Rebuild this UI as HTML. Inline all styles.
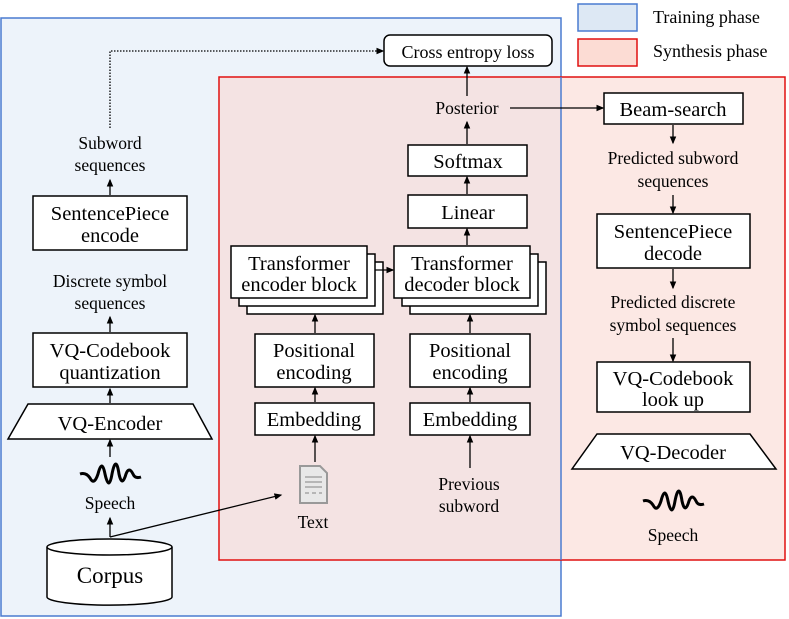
<!DOCTYPE html>
<html><head><meta charset="utf-8"><style>
body{margin:0;background:#fff}
svg{display:block;font-family:"Liberation Serif",serif}
</style></head><body>
<svg width="789" height="619" viewBox="0 0 789 619" xmlns="http://www.w3.org/2000/svg">
<defs><marker id="a" markerWidth="6" markerHeight="6" refX="5" refY="3" orient="auto"><path d="M0,0.5 L6,3 L0,5.5z" fill="#000"/></marker></defs>
<rect x="1" y="18" width="560" height="598" fill="#edf3fa" stroke="#4a7bd0" stroke-width="1.5"/>
<rect x="219" y="77" width="566" height="483" fill="#fce8e4" stroke="#e01010" stroke-width="1.5"/>
<rect x="220" y="78" width="340" height="481" fill="#f4e3e3"/>
<line x1="561" y1="77" x2="561" y2="560" stroke="#4a7bd0" stroke-width="1.5"/>
<rect x="578" y="4" width="59" height="27" fill="#dde8f4" stroke="#4a7bd0" stroke-width="1.5"/>
<rect x="578" y="39" width="59" height="27" fill="#fcdcd4" stroke="#e01010" stroke-width="1.5"/>
<g font-size="18"><text x="653" y="23">Training phase</text><text x="653" y="57">Synthesis phase</text></g>
<g fill="#fff" stroke="#000" stroke-width="1.5">
<rect x="384" y="35" width="168" height="31" rx="6"/>
<rect x="33" y="196" width="154" height="54"/>
<rect x="33" y="333" width="154" height="54"/>
<polygon points="28,404 193,404 212,439 8,439"/>
<path d="M47,547 v50 a62,8 0 0 0 125,0 v-50"/>
<ellipse cx="109.5" cy="547" rx="62.5" ry="8"/>
<rect x="247" y="262" width="136" height="52"/><rect x="239" y="254" width="136" height="52"/><rect x="231" y="246" width="136" height="52"/>
<rect x="255" y="334" width="119" height="53"/>
<rect x="255" y="403" width="119" height="32"/>
<rect x="410" y="262" width="136" height="52"/><rect x="402" y="254" width="136" height="52"/><rect x="394" y="246" width="136" height="52"/>
<rect x="410" y="334" width="120" height="53"/>
<rect x="410" y="403" width="120" height="32"/>
<rect x="408" y="195" width="119" height="33"/>
<rect x="408" y="145" width="119" height="31"/>
<rect x="604" y="93" width="139" height="31"/>
<rect x="597" y="214" width="153" height="54"/>
<rect x="597" y="362" width="153" height="50"/>
<polygon points="597,434 750,434 776,469 572,469"/>
</g>
<g font-size="20.5" text-anchor="middle">
<text x="468" y="58" font-size="18">Cross entropy loss</text>
<text x="110" y="220">SentencePiece</text><text x="110" y="242">encode</text>
<text x="110" y="357">VQ-Codebook</text><text x="110" y="379">quantization</text>
<text x="110" y="430">VQ-Encoder</text>
<text x="110" y="583" font-size="23">Corpus</text>
<text x="299" y="270">Transformer</text><text x="299" y="291">encoder block</text>
<text x="314" y="357">Positional</text><text x="314" y="379">encoding</text>
<text x="314" y="426">Embedding</text>
<text x="462" y="270">Transformer</text><text x="462" y="291">decoder block</text>
<text x="470" y="357">Positional</text><text x="470" y="379">encoding</text>
<text x="470" y="426">Embedding</text>
<text x="468" y="219">Linear</text>
<text x="468" y="168">Softmax</text>
<text x="673" y="116">Beam-search</text>
<text x="673" y="238">SentencePiece</text><text x="673" y="260">decode</text>
<text x="673" y="385">VQ-Codebook</text><text x="673" y="406">look up</text>
<text x="673" y="459">VQ-Decoder</text>
</g>
<g font-size="17.5" text-anchor="middle">
<text x="110" y="149">Subword</text><text x="110" y="171">sequences</text>
<text x="110" y="287">Discrete symbol</text><text x="110" y="309">sequences</text>
<text x="110" y="509">Speech</text>
<text x="313" y="528">Text</text>
<text x="469" y="490">Previous</text><text x="469" y="512">subword</text>
<text x="467" y="114">Posterior</text>
<text x="673" y="164">Predicted subword</text><text x="673" y="187">sequences</text>
<text x="673" y="308">Predicted discrete</text><text x="673" y="331">symbol sequences</text>
<text x="673" y="541">Speech</text>
</g>
<g stroke="#000" stroke-width="1.3" fill="none" marker-end="url(#a)">
<path d="M110,128 V51 H383" stroke-dasharray="1.5,1.5"/>
<line x1="110" y1="195" x2="110" y2="180"/>
<line x1="110" y1="332" x2="110" y2="317"/>
<line x1="110" y1="403" x2="110" y2="389"/>
<line x1="110" y1="457" x2="110" y2="440"/>
<line x1="110" y1="537" x2="110" y2="518"/>
<line x1="110" y1="537" x2="281" y2="495"/>
<line x1="315" y1="402" x2="315" y2="388"/>
<line x1="315" y1="333" x2="315" y2="315"/>
<line x1="315" y1="462" x2="315" y2="436"/>
<line x1="375" y1="270" x2="393" y2="270"/>
<line x1="470" y1="402" x2="470" y2="388"/>
<line x1="470" y1="333" x2="470" y2="315"/>
<line x1="470" y1="468" x2="470" y2="436"/>
<line x1="467" y1="245" x2="467" y2="229"/>
<line x1="467" y1="194" x2="467" y2="177"/>
<line x1="467" y1="144" x2="467" y2="122"/>
<line x1="467" y1="96" x2="467" y2="67"/>
<line x1="510" y1="108" x2="603" y2="108"/>
<line x1="673" y1="125" x2="673" y2="143"/>
<line x1="673" y1="195" x2="673" y2="213"/>
<line x1="673" y1="269" x2="673" y2="288"/>
<line x1="673" y1="338" x2="673" y2="361"/>
</g>
<path d="M80,474 q6,-2 10,4 q4,8 8,-4 q4,-16 7,0 q4,18 7,0 q4,-20 7,0 q3,14 7,0 q3,-8 7,0 q2,5 8,3" fill="none" stroke="#000" stroke-width="3"/>
<path d="M643,501 q6,-2 10,4 q4,8 8,-4 q4,-16 7,0 q4,18 7,0 q4,-20 7,0 q3,14 7,0 q3,-8 7,0 q2,5 8,3" fill="none" stroke="#000" stroke-width="3"/>
<path d="M300,466 h20 l7,7 v30 h-27z" fill="#e8e8e8" stroke="#999" stroke-width="2"/>
<g stroke="#999" stroke-width="1.2"><line x1="305" y1="477" x2="322" y2="477"/><line x1="305" y1="482" x2="322" y2="482"/><line x1="305" y1="487" x2="322" y2="487"/><line x1="305" y1="493" x2="322" y2="493" stroke-dasharray="4,3"/></g>
</svg>
</body></html>
